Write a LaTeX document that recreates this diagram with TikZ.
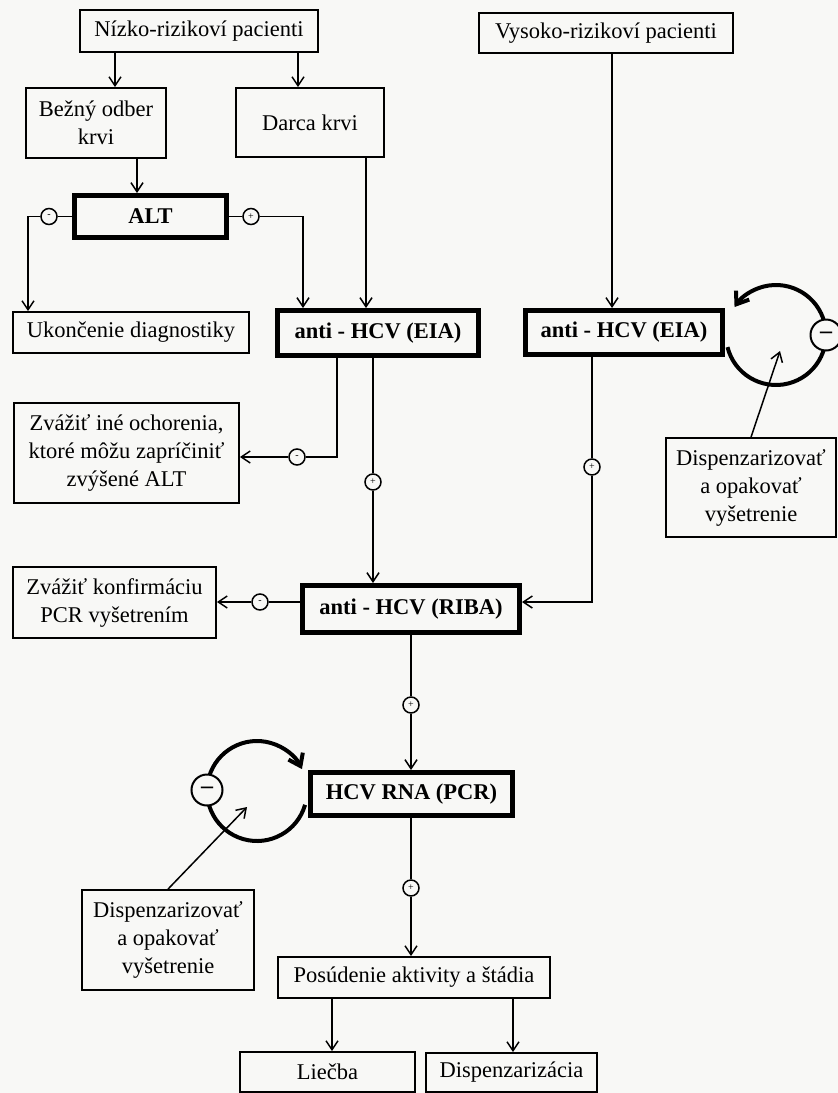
\documentclass[tikz,border=0pt]{standalone}
\usepackage{fontspec}
\setmainfont{Liberation Serif}
\usetikzlibrary{arrows.meta,calc}
\definecolor{bg}{RGB}{248,248,246}
\begin{document}
\begin{tikzpicture}[x=1pt,y=-1pt,
  font=\fontsize{22.5}{28}\selectfont,
  box/.style={draw, line width=1.8pt, align=center, inner sep=2pt},
  tbox/.style={draw, line width=5pt, align=center, inner sep=2pt, font=\fontsize{22.5}{28}\selectfont\bfseries},
  ln/.style={line width=1.5pt},
  arr/.style={line width=1.5pt, -{Straight Barb[length=9pt,width=12pt]}},
  sc/.style={circle, draw, line width=1.5pt, fill=bg, minimum size=16pt, inner sep=0pt, font=\fontsize{10}{10}\selectfont},
  bc/.style={circle, draw, line width=2pt, fill=bg, minimum size=31pt, inner sep=0pt, font=\fontsize{24}{24}\selectfont\bfseries},
  loopline/.style={line width=4pt, -{Straight Barb[length=11pt,width=16pt]}}
]
\useasboundingbox (0,0) rectangle (838,1093);
\fill[bg] (0,0) rectangle (838,1093);

% column coordinates
\coordinate (xA) at (115,0);
\coordinate (xB) at (298,0);
\coordinate (xC) at (137,0);
\coordinate (xD) at (28,0);
\coordinate (xE) at (303,0);
\coordinate (xF) at (366,0);
\coordinate (xG) at (612,0);
\coordinate (xH) at (337,0);
\coordinate (xI) at (373,0);
\coordinate (xJ) at (592,0);
\coordinate (xL) at (332,0);
\coordinate (xM) at (513,0);
\coordinate (yR) at (0,602);
\coordinate (lc1) at (257,791);
\coordinate (lc2) at (776,335);
\coordinate (t1) at (247,807);
\coordinate (t2) at (780,351);

% feedback loops
\draw[loopline] ($(lc1)+(16:50)$) arc[start angle=16, end angle=334, radius=50];
\draw[loopline] ($(lc2)+(166:50)$) arc[start angle=166, end angle=-146, radius=50];

% boxes
\node[box, minimum width=238pt, minimum height=42pt] (nizko) at (199,31) {Nízko-rizikoví pacienti};
\node[box, minimum width=254pt, minimum height=40pt] (vysoko) at (606,33) {Vysoko-rizikoví pacienti};
\node[box, minimum width=140pt, minimum height=70pt] (bezny) at (96,123) {Bežný odber\\krvi};
\node[box, minimum width=148pt, minimum height=69pt] (darca) at (310,122.5) {Darca krvi};
\node[tbox, minimum width=152pt, minimum height=42pt] (alt) at (150.5,216.5) {ALT};
\node[box, minimum width=236pt, minimum height=41pt] (ukon) at (131,332.5) {Ukončenie diagnostiky};
\node[tbox, minimum width=201pt, minimum height=45pt] (eia1) at (378,333) {anti - HCV (EIA)};
\node[tbox, minimum width=197pt, minimum height=44pt] (eia2) at (624,332.5) {anti - HCV (EIA)};
\node[box, minimum width=225pt, minimum height=100pt] (zv1) at (126.5,453) {Zvážiť iné ochorenia,\\ktoré môžu zapríčiniť\\zvýšené ALT};
\node[box, minimum width=170pt, minimum height=99pt] (disp2) at (751,487.5) {Dispenzarizovať\\a opakovať\\vyšetrenie};
\node[box, minimum width=203pt, minimum height=71pt] (zv2) at (114.5,602.5) {Zvážiť konfirmáciu\\PCR vyšetrením};
\node[tbox, minimum width=217pt, minimum height=47pt] (riba) at (411,609) {anti - HCV (RIBA)};
\node[tbox, minimum width=202pt, minimum height=43pt] (hcv) at (411.5,794) {HCV RNA (PCR)};
\node[box, minimum width=172pt, minimum height=100pt] (disp1) at (168,940) {Dispenzarizovať\\a opakovať\\vyšetrenie};
\node[box, minimum width=272pt, minimum height=41pt] (posud) at (414,977.5) {Posúdenie aktivity a štádia};
\node[box, minimum width=175pt, minimum height=40pt] (lieb) at (327.5,1072) {Liečba};
\node[box, minimum width=171pt, minimum height=39pt] (dispz) at (511.5,1072.5) {Dispenzarizácia};

% sign circles
\node[sc] (m1) at (49,216.5) {-};
\node[sc] (p1) at (251,216.5) {+};
\node[sc] (m2) at (297,457) {-};
\node[sc] (p2) at (373,482) {+};
\node[sc] (p3) at (592,467) {+};
\node[sc] (m3) at (260,602) {-};
\node[sc] (p4) at (411,705) {+};
\node[sc] (p5) at (411,888) {+};
\node[bc] (bm1) at (207,790) {–};
\node[bc] (bm2) at (826,335) {–};

% connectors
\draw[arr] (nizko.south -| xA) -- (bezny.north -| xA);
\draw[arr] (nizko.south -| xB) -- (darca.north -| xB);
\draw[arr] (bezny.south -| xC) -- (alt.north -| xC);
\draw[ln] (alt.west) -- (m1.east);
\draw[arr] (m1.west) -| (ukon.north -| xD);
\draw[ln] (alt.east) -- (p1.west);
\draw[arr] (p1.east) -| (eia1.north -| xE);
\draw[arr] (darca.south -| xF) -- (eia1.north -| xF);
\draw[arr] (vysoko.south -| xG) -- (eia2.north -| xG);
\draw[ln] (eia1.south -| xH) |- (m2.east);
\draw[arr] (m2.west) -- (zv1.east |- m2);
\draw[ln] (eia1.south -| xI) -- (p2.north);
\draw[arr] (p2.south) -- (riba.north -| xI);
\draw[ln] (eia2.south -| xJ) -- (p3.north);
\draw[arr] (p3.south) |- (riba.east |- yR);
\draw[ln] (riba.west |- yR) -- (m3.east);
\draw[arr] (m3.west) -- (zv2.east |- yR);
\draw[ln] (riba.south -| p4) -- (p4.north);
\draw[arr] (p4.south) -- (hcv.north -| p4);
\draw[ln] (hcv.south -| p5) -- (p5.north);
\draw[arr] (p5.south) -- (posud.north -| p5);
\draw[arr] (posud.south -| xL) -- (lieb.north -| xL);
\draw[arr] (posud.south -| xM) -- (dispz.north -| xM);
\draw[arr] (disp2.north) -- (t2);
\draw[arr] (disp1.north) -- (t1);
\end{tikzpicture}
\end{document}
